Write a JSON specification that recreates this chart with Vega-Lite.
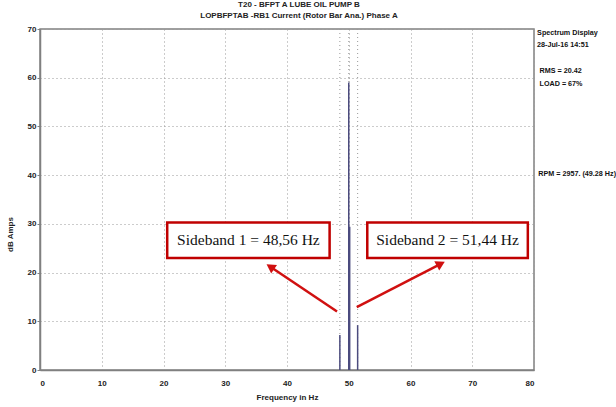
{
  "$schema": "https://vega.github.io/schema/vega-lite/v6.json",
  "width": 494,
  "height": 341,
  "autosize": {"type": "none"},
  "padding": {"left": 40, "top": 29, "right": 82, "bottom": 37},
  "background": "white",
  "config": {
    "font": "Liberation Sans",
    "view": {"stroke": "#808080", "strokeWidth": 1.5},
    "axis": {"labelFont": "Liberation Sans", "titleFont": "Liberation Sans", "labelColor": "#222", "titleColor": "#222", "labelFontSize": 8, "titleFontSize": 8, "titleFontWeight": "bold", "labelFontWeight": "bold", "domainColor": "#808080", "domainWidth": 1.5, "tickColor": "#808080", "gridColor": "#999", "gridDash": [1, 3], "gridWidth": 1}
  },
  "title": {
    "text": "T20  - BFPT A LUBE OIL PUMP B",
    "subtitle": "LOPBFPTAB -RB1   Current (Rotor Bar Ana.) Phase A",
    "font": "Liberation Sans",
    "fontSize": 8,
    "fontWeight": "bold",
    "subtitleFont": "Liberation Sans",
    "subtitleFontSize": 8,
    "subtitleFontWeight": "bold",
    "subtitleColor": "#222",
    "color": "#222",
    "subtitlePadding": 3,
    "anchor": "middle",
    "offset": 5,
    "dx": 12
  },
  "datasets": {
    "spectrum": [
      {"freq": 48.56, "amp": 7.2},
      {"freq": 50.0, "amp": 59.0},
      {"freq": 50.15, "amp": 29.4},
      {"freq": 51.44, "amp": 9.2}
    ],
    "cursors": [
      {"freq": 48.56},
      {"freq": 50.0},
      {"freq": 51.44}
    ],
    "info": [
      {"label": "Spectrum Display", "x": 80.5, "y": 69.2},
      {"label": "28-Jul-16  14:51", "x": 80.5, "y": 66.7},
      {"label": "RMS  = 20.42", "x": 80.9, "y": 61.3},
      {"label": "LOAD =   67%", "x": 80.9, "y": 58.8},
      {"label": "RPM = 2957. (49.28 Hz)", "x": 80.7, "y": 40.3}
    ],
    "boxes": [
      {"x1": 20.6, "x2": 46.9, "y1": 23.0, "y2": 30.3, "xc": 33.75, "yc": 26.65, "label": "Sideband 1 = 48,56 Hz"},
      {"x1": 53.0, "x2": 79.0, "y1": 23.0, "y2": 30.3, "xc": 66.0, "yc": 26.65, "label": "Sideband 2 = 51,44 Hz"}
    ],
    "arrows": [
      {"x1": 48.1, "y1": 12.0, "x2": 37.3, "y2": 21.2, "ang": 304},
      {"x1": 51.3, "y1": 12.9, "x2": 64.9, "y2": 21.8, "ang": 62}
    ]
  },
  "layer": [
    {
      "data": {"name": "cursors"},
      "mark": {"type": "rule", "color": "#999", "strokeDash": [1, 3], "strokeWidth": 1},
      "encoding": {
        "x": {"field": "freq", "type": "quantitative", "scale": {"domain": [0, 80], "nice": false},
          "axis": {"values": [0, 10, 20, 30, 40, 50, 60, 70, 80], "title": "Frequency in Hz", "tickSize": 0, "labelPadding": 9, "titlePadding": 6, "grid": true}},
        "y": {"datum": 0, "type": "quantitative", "scale": {"domain": [0, 70], "nice": false},
          "axis": {"values": [0, 10, 20, 30, 40, 50, 60, 70], "title": "dB Amps", "tickSize": 3, "labelPadding": 1, "titlePadding": 10, "titleY": 205, "titleX": -26, "grid": true}},
        "y2": {"datum": 70}
      }
    },
    {
      "data": {"name": "spectrum"},
      "mark": {"type": "rule", "color": "#4b4b7e", "strokeWidth": 1.5},
      "encoding": {
        "x": {"field": "freq", "type": "quantitative"},
        "y": {"field": "amp", "type": "quantitative"},
        "y2": {"datum": 0}
      }
    },
    {
      "data": {"name": "boxes"},
      "mark": {"type": "rect", "fill": "white", "stroke": "#c00000", "strokeWidth": 2.5},
      "encoding": {
        "x": {"field": "x1", "type": "quantitative"},
        "x2": {"field": "x2"},
        "y": {"field": "y1", "type": "quantitative"},
        "y2": {"field": "y2"}
      }
    },
    {
      "data": {"name": "boxes"},
      "mark": {"type": "text", "font": "Liberation Serif", "fontSize": 15.5, "color": "#111", "align": "center", "baseline": "middle"},
      "encoding": {
        "x": {"field": "xc", "type": "quantitative"},
        "y": {"field": "yc", "type": "quantitative"},
        "text": {"field": "label"}
      }
    },
    {
      "data": {"name": "arrows"},
      "mark": {"type": "rule", "color": "#d01010", "strokeWidth": 2.5},
      "encoding": {
        "x": {"field": "x1", "type": "quantitative"},
        "y": {"field": "y1", "type": "quantitative"},
        "x2": {"field": "x2"},
        "y2": {"field": "y2"}
      }
    },
    {
      "data": {"name": "arrows"},
      "mark": {"type": "point", "shape": "triangle-up", "filled": true, "color": "#d01010", "size": 110, "opacity": 1},
      "encoding": {
        "x": {"field": "x2", "type": "quantitative"},
        "y": {"field": "y2", "type": "quantitative"},
        "angle": {"field": "ang", "type": "quantitative", "scale": null}
      }
    },
    {
      "data": {"name": "info"},
      "mark": {"type": "text", "align": "left", "baseline": "middle", "font": "Liberation Sans", "fontSize": 7.2, "fontWeight": "bold", "color": "#111", "clip": false},
      "encoding": {
        "x": {"field": "x", "type": "quantitative"},
        "y": {"field": "y", "type": "quantitative"},
        "text": {"field": "label"}
      }
    }
  ]
}
